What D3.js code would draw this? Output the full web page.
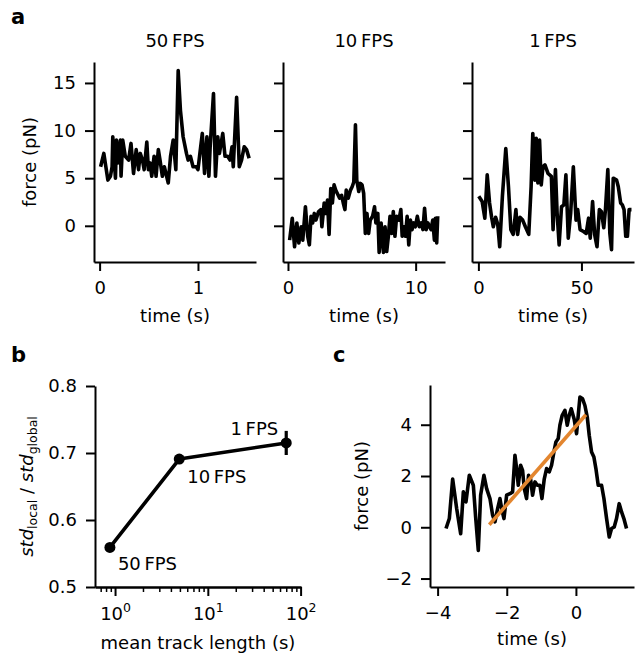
<!DOCTYPE html>
<html>
<head>
<meta charset="utf-8">
<title>force traces</title>
<script src="https://cdnjs.cloudflare.com/ajax/libs/d3/7.8.5/d3.min.js"></script>
<style>
  body { margin: 0; background: #fff; }
  text { font-family: "DejaVu Sans", sans-serif; fill: #000; }
</style>
</head>
<body>
<svg id="fig" width="635" height="658"></svg>
<script>
// ---- panel a, 50 FPS trace
var fps50Time = [0.010,0.043,0.084,0.110,0.127,0.134,0.161,0.171,0.184,0.211,0.218,0.235,0.261,0.295,0.319,0.345,0.372,0.396,0.413,0.436,0.453,0.480,0.496,0.513,0.530,0.554,0.574,0.597,0.614,0.638,0.658,0.698,0.721,0.748,0.775,0.799,0.822,0.849,0.883,0.900,0.923,0.950,0.983,1.000,1.024,1.044,1.067,1.091,1.111,1.124,1.158,1.178,1.201,1.218,1.252,1.275,1.302,1.326,1.346,1.359,1.393,1.420,1.443,1.470,1.494,1.520];
var fps50Force = [6.2,7.6,4.8,5.2,6.2,9.35,5.0,9.0,6.6,9.0,5.2,9.0,7.3,6.9,8.65,5.5,8.0,5.9,7.6,6.9,5.9,8.8,5.9,6.6,5.2,7.3,5.2,8.0,6.9,5.2,6.2,4.5,7.3,9.0,5.9,16.3,12.1,9.35,7.6,6.9,7.3,6.2,6.2,5.9,8.0,9.7,5.5,9.35,5.2,8.3,13.9,5.2,9.35,7.6,9.7,7.3,7.3,6.9,8.3,6.2,13.5,6.2,6.9,8.3,8.0,7.1];

// ---- panel a, 10 FPS trace
var fps10Time = [0.13,0.335,0.515,0.696,0.851,1.031,1.16,1.366,1.547,1.676,1.805,1.934,2.062,2.191,2.397,2.578,2.655,2.836,2.965,3.093,3.222,3.351,3.48,3.609,3.738,3.867,4.047,4.202,4.331,4.46,4.563,4.718,4.898,5.027,5.156,5.285,5.388,5.543,5.672,5.801,5.93,6.059,6.187,6.316,6.445,6.626,6.78,6.884,7.038,7.141,7.296,7.476,7.605,7.734,7.863,7.992,8.121,8.25,8.379,8.508,8.688,8.843,8.946,9.101,9.204,9.333,9.462,9.591,9.72,9.849,9.978,10.132,10.287,10.44,10.57,10.7,10.83,10.96,11.09,11.21,11.34,11.47,11.55,11.65,11.73];
var fps10Force = [-1.5,0.8,-2.2,0.3,-1.8,-0.1,-1.5,2.0,-1.1,-2.0,1.0,0.3,1.3,0.6,1.5,1.7,-0.1,2.4,1.3,2.7,-0.9,3.9,2.4,4.3,3.75,3.4,2.9,3.2,2.4,1.7,3.75,2.9,3.75,4.1,4.6,10.6,4.8,3.6,4.45,4.3,3.4,-0.8,1.3,-0.8,0.6,1.0,2.0,0.3,1.3,-2.8,0.3,-2.8,-0.1,-2.7,-1.1,1.0,-0.8,1.5,-1.1,1.0,0.6,1.7,-1.1,-0.1,-1.1,1.0,-2.0,0.6,-0.4,0.3,-0.1,1.0,-0.1,0.3,-0.4,1.85,-0.4,0.3,-0.1,-0.4,0.6,-1.5,0.8,-1.8,1.0];

// ---- panel a, 1 FPS trace
var fps1Time = [0.18,1.82,3.13,4.28,5.42,6.41,7.23,8.37,9.36,10.34,11.65,13.29,14.60,15.75,16.9,18.2,19.03,20.17,21.49,22.8,24.44,25.58,26.4,27.39,28.04,28.86,29.68,30.5,31.31,32.3,33.77,35.41,36.24,37.38,38.2,39.18,40.33,41.48,42.46,43.61,44.76,46.07,47.38,48.2,49.35,50.99,52.3,53.45,54.27,55.41,56.4,57.55,58.7,59.68,60.83,61.65,62.8,63.78,64.6,65.42,67.06,67.88,69.03,69.85,70.67,71.49,72.31,73.13,74.28];
var fps1Force = [3.1,2.55,0.8,5.35,2.4,0.9,-0.1,0.9,0.2,-2.2,3.1,8.1,4.1,-0.4,-0.9,1.7,-0.9,0.9,0.6,-0.1,-0.9,4.1,9.7,4.8,9.2,4.5,9.0,4.3,6.2,6.4,5.5,5.2,-0.4,5.9,1.3,-2.0,2.0,2.2,5.35,-1.3,1.3,6.2,0.6,1.7,-0.4,-0.6,-0.8,0.8,-1.3,2.55,-0.9,-2.2,1.7,1.5,-0.2,1.7,5.9,-0.8,-2.5,5.0,4.8,4.1,2.4,2.2,1.7,-1.1,-1.1,1.7,1.7];

var traceTitles = ["50\u2009FPS", "10\u2009FPS", "1\u2009FPS"];
var traceXTicks = [[0, 1], [0, 10], [0, 50]];
var forceTicksA = [0, 5, 10, 15];

// ---- panel b
var trackLength = [0.88, 4.92, 70];
var stdRatio = [0.559, 0.691, 0.715];
var stdRatioErr = [0.004, 0.004, 0.018];
var rateLabels = ["50\u2009FPS", "10\u2009FPS", "1\u2009FPS"];
var ratioTicks = [0.5, 0.6, 0.7, 0.8];

// ---- panel c
var cTime = [-3.757,-3.661,-3.565,-3.449,-3.333,-3.256,-3.179,-3.083,-2.967,-2.9,-2.823,-2.756,-2.66,-2.582,-2.486,-2.409,-2.341,-2.264,-2.197,-2.148,-2.081,-2.004,-1.908,-1.831,-1.763,-1.715,-1.667,-1.6,-1.542,-1.494,-1.427,-1.369,-1.311,-1.253,-1.185,-1.118,-1.041,-0.983,-0.916,-0.848,-0.771,-0.704,-0.636,-0.578,-0.511,-0.463,-0.396,-0.318,-0.251,-0.193,-0.135,-0.048,0.019,0.067,0.116,0.193,0.26,0.328,0.385,0.453,0.52,0.578,0.645,0.742,0.81,0.887,0.964,1.031,1.108,1.175,1.252,1.32,1.387,1.464];
var cForce = [-0.05,0.34,1.88,0.73,-0.25,1.38,0.99,2.03,1.64,0.4,-0.9,1.25,2.03,1.51,1.12,0.47,0.21,0.73,1.12,0.73,0.34,1.25,1.31,1.38,2.81,2.29,1.64,2.42,2.22,1.51,1.12,2.03,1.88,1.25,1.77,1.64,1.64,1.12,1.88,2.29,2.16,2.42,2.94,3.33,3.46,3.98,4.37,4.56,3.98,4.37,4.62,4.2,3.65,4.37,5.08,5.01,4.75,4.3,3.59,2.94,2.74,2.29,1.64,1.64,1.12,0.34,-0.38,-0.05,0.01,0.34,0.92,0.6,0.34,-0.05];
var fitTime = [-2.505, 0.289];
var fitForce = [0.10, 4.39];
var cXTicks = [-4, -2, 0];
var cYTicks = [-2, 0, 2, 4];

var FS = 18, TICK = 9, PAD = 9, LW = 3.6;
var svg = d3.select("#fig");
svg.append("rect").attr("width", 635).attr("height", 658).attr("fill", "#fff");

function styleAxis(g) {
  g.select(".domain").attr("stroke", "#000").attr("stroke-width", 2);
  g.selectAll(".tick line").attr("stroke", "#000").attr("stroke-width", 2);
  g.selectAll(".tick text").attr("font-size", FS).attr("font-family", "DejaVu Sans").attr("fill", "#000");
  g.attr("font-family", null).attr("font-size", null);
}

function drawLine(x, y, xs, ys, color, w) {
  var line = d3.line().x(function(d) { return x(d[0]); }).y(function(d) { return y(d[1]); });
  svg.append("path")
    .datum(d3.zip(xs, ys))
    .attr("d", line)
    .attr("fill", "none")
    .attr("stroke", color)
    .attr("stroke-width", w)
    .attr("stroke-linejoin", "round")
    .attr("stroke-linecap", "butt");
}

// ---- panel a
var aLefts = [94, 283, 472], aW = 162, aTop = 62, aBot = 262;
var aDomains = [[-0.057, 1.59], [-0.39, 12.3], [-3.1, 75.5]];
var aTimes = [fps50Time, fps10Time, fps1Time];
var aForces = [fps50Force, fps10Force, fps1Force];
var yA = d3.scaleLinear().domain([-3.8, 17.2]).range([aBot, aTop]);

for (var i = 0; i < 3; i++) {
  var x = d3.scaleLinear().domain(aDomains[i]).range([aLefts[i], aLefts[i] + aW]);
  var gx = svg.append("g").attr("transform", "translate(0," + aBot + ")")
    .call(d3.axisBottom(x).tickValues(traceXTicks[i]).tickSize(TICK).tickPadding(PAD + 1).tickSizeOuter(0).tickFormat(d3.format("d")));
  styleAxis(gx);
  var gy = svg.append("g").attr("transform", "translate(" + aLefts[i] + ",0)")
    .call(d3.axisLeft(yA).tickValues(forceTicksA).tickSize(TICK).tickPadding(PAD).tickSizeOuter(0)
      .tickFormat(i == 0 ? d3.format("d") : function() { return ""; }));
  styleAxis(gy);
  drawLine(x, yA, aTimes[i], aForces[i], "#000", LW);
  svg.append("text").attr("x", aLefts[i] + aW / 2).attr("y", 47)
    .attr("text-anchor", "middle").attr("font-size", FS).text(traceTitles[i]);
  svg.append("text").attr("x", aLefts[i] + aW / 2).attr("y", 322)
    .attr("text-anchor", "middle").attr("font-size", FS).text("time (s)");
}
svg.append("text").attr("transform", "translate(36," + (aTop + aBot) / 2 + ") rotate(-90)")
  .attr("text-anchor", "middle").attr("font-size", FS).text("force (pN)");

// ---- panel b
var bL = 95, bR = 301, bT = 386, bB = 587;
var xB = d3.scaleLog().domain([0.608, 101]).range([bL, bR]);
var yB = d3.scaleLinear().domain([0.5, 0.8]).range([bB, bT]);
var allLogTicks = xB.ticks();
var majorLog = allLogTicks.filter(function(d) { return Math.abs(Math.log10(d) - Math.round(Math.log10(d))) < 1e-9; });
var minorLog = allLogTicks.filter(function(d) { return majorLog.indexOf(d) < 0; });

var gbMinor = svg.append("g").attr("transform", "translate(0," + bB + ")")
  .call(d3.axisBottom(xB).tickValues(minorLog).tickSize(5).tickFormat(function() { return ""; }).tickSizeOuter(0));
styleAxis(gbMinor);
gbMinor.selectAll(".tick line").attr("stroke-width", 1.5);
var gbx = svg.append("g").attr("transform", "translate(0," + bB + ")")
  .call(d3.axisBottom(xB).tickValues(majorLog).tickSize(TICK).tickSizeOuter(0).tickFormat(function() { return ""; }));
styleAxis(gbx);
gbx.selectAll(".tick").each(function(d) {
  var t = d3.select(this).append("text").attr("y", 33).attr("text-anchor", "middle").attr("font-size", FS);
  t.append("tspan").text("10");
  t.append("tspan").attr("dy", -8).attr("font-size", 12.5).text(Math.round(Math.log10(d)));
});
var gby = svg.append("g").attr("transform", "translate(" + bL + ",0)")
  .call(d3.axisLeft(yB).tickValues(ratioTicks).tickSize(TICK).tickPadding(PAD).tickSizeOuter(0).tickFormat(d3.format(".1f")));
styleAxis(gby);

drawLine(xB, yB, trackLength, stdRatio, "#000", LW);
svg.append("g").selectAll("line").data(d3.range(trackLength.length)).enter().append("line")
  .attr("x1", function(i) { return xB(trackLength[i]); })
  .attr("x2", function(i) { return xB(trackLength[i]); })
  .attr("y1", function(i) { return yB(stdRatio[i] - stdRatioErr[i]); })
  .attr("y2", function(i) { return yB(stdRatio[i] + stdRatioErr[i]); })
  .attr("stroke", "#000").attr("stroke-width", 3.2);
svg.append("g").selectAll("circle").data(d3.range(trackLength.length)).enter().append("circle")
  .attr("cx", function(i) { return xB(trackLength[i]); })
  .attr("cy", function(i) { return yB(stdRatio[i]); })
  .attr("r", 5.5).attr("fill", "#000");

var labelOffsets = [[8, 23, "start"], [8, 24, "start"], [-8, -8, "end"]];
rateLabels.forEach(function(lab, i) {
  svg.append("text")
    .attr("x", xB(trackLength[i]) + labelOffsets[i][0])
    .attr("y", yB(stdRatio[i]) + labelOffsets[i][1])
    .attr("text-anchor", labelOffsets[i][2]).attr("font-size", FS).text(lab);
});

var yl = svg.append("text").attr("transform", "translate(33," + (bT + bB) / 2 + ") rotate(-90)")
  .attr("text-anchor", "middle").attr("font-size", FS);
yl.append("tspan").attr("font-style", "italic").text("std");
yl.append("tspan").attr("font-size", 12.5).attr("dy", 4).text("local");
yl.append("tspan").attr("dy", -4).text(" / ");
yl.append("tspan").attr("font-style", "italic").text("std");
yl.append("tspan").attr("font-size", 12.5).attr("dy", 4).text("global");

svg.append("text").attr("x", (bL + bR) / 2).attr("y", 649)
  .attr("text-anchor", "middle").attr("font-size", FS).text("mean track length (s)");

// ---- panel c
var cL = 430, cR = 634, cT = 385, cB = 587;
var xC = d3.scaleLinear().domain([-4.22, 1.68]).range([cL, cR]);
var yC = d3.scaleLinear().domain([-2.33, 5.55]).range([cB, cT]);
var gcx = svg.append("g").attr("transform", "translate(0," + cB + ")")
  .call(d3.axisBottom(xC).tickValues(cXTicks).tickSize(TICK).tickPadding(PAD + 1).tickSizeOuter(0).tickFormat(d3.format("d")));
styleAxis(gcx);
var gcy = svg.append("g").attr("transform", "translate(" + cL + ",0)")
  .call(d3.axisLeft(yC).tickValues(cYTicks).tickSize(TICK).tickPadding(PAD).tickSizeOuter(0).tickFormat(d3.format("d")));
styleAxis(gcy);
drawLine(xC, yC, cTime, cForce, "#000", LW);
drawLine(xC, yC, fitTime, fitForce, "#e3862f", LW);
svg.append("text").attr("x", (cL + cR) / 2).attr("y", 645)
  .attr("text-anchor", "middle").attr("font-size", FS).text("time (s)");
svg.append("text").attr("transform", "translate(368," + (cT + cB) / 2 + ") rotate(-90)")
  .attr("text-anchor", "middle").attr("font-size", FS).text("force (pN)");

// ---- panel letters
[["a", 11, 24], ["b", 11, 362], ["c", 333, 362]].forEach(function(p) {
  svg.append("text").attr("x", p[1]).attr("y", p[2]).attr("font-size", 21)
    .attr("font-weight", "bold").text(p[0]);
});
</script>
</body>
</html>
